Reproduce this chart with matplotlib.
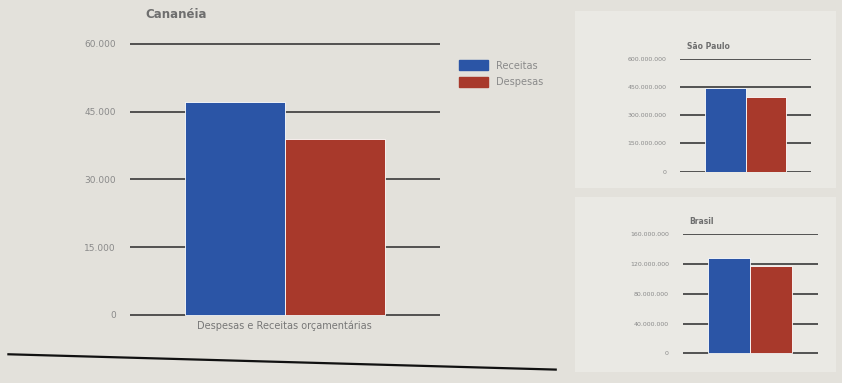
import matplotlib
matplotlib.use("Agg")
import matplotlib.pyplot as plt
from matplotlib.patches import Rectangle
from matplotlib.ticker import FuncFormatter

# data
series = ["Receitas", "Despesas"]
colors = ["#2b55a6", "#a8392b"]

cananeia_vals = [47000, 39000]
cananeia_ticks = [0, 15000, 30000, 45000, 60000]

sp_vals = [445000000, 400000000]
sp_ticks = [0, 150000000, 300000000, 450000000, 600000000]

brasil_vals = [128000000, 117000000]
brasil_ticks = [0, 40000000, 80000000, 120000000, 160000000]

xlabel = "Despesas e Receitas orçamentárias"

bg = "#e3e1db"
fig = plt.figure(figsize=(8.42, 3.83), dpi=100, facecolor=bg)

# lighter boxes behind the two small charts
fig.patches.append(Rectangle((0.683, 0.51), 0.31, 0.46, transform=fig.transFigure,
                             facecolor="#eae9e4", edgecolor="none", zorder=-5))
fig.patches.append(Rectangle((0.683, 0.03), 0.31, 0.455, transform=fig.transFigure,
                             facecolor="#eae9e4", edgecolor="none", zorder=-5))

fmt = FuncFormatter(lambda v, p: f"{int(v):,}".replace(",", "."))


def draw(ax, vals, ticks, title, tick_size, title_size, xlim):
    ax.set_facecolor("none")
    ax.bar([-0.5, 0.5], vals, width=1.0, color=colors, edgecolor="white",
           linewidth=0.6, zorder=3)
    ax.set_xlim(-xlim, xlim)
    ax.set_yticks(ticks)
    ax.yaxis.set_major_formatter(fmt)
    ax.grid(axis="y", color="#2a2a2a", linewidth=1.1, zorder=1)
    ax.set_axisbelow(True)
    ax.set_xticks([])
    for s in ax.spines.values():
        s.set_visible(False)
    ax.tick_params(axis="y", length=0, labelsize=tick_size, labelcolor="#8a8a8a", pad=10)
    ax.text(0.05, 1.07, title, transform=ax.transAxes, fontsize=title_size,
            fontweight="bold", color="#6e6e6e", ha="left", va="bottom")
    ax.set_ylim(-ticks[-1] * 0.004, ticks[-1] * 1.003)


ax1 = fig.add_axes([0.154, 0.175, 0.368, 0.713])
draw(ax1, cananeia_vals, cananeia_ticks, "Cananéia", 6.5, 8.5, 1.55)
ax1.texts[0].set_position((0.05, 1.08))
ax1.set_xlabel(xlabel, fontsize=7, color="#777777", labelpad=3)

ax2 = fig.add_axes([0.808, 0.551, 0.155, 0.295])
draw(ax2, sp_vals, sp_ticks, "São Paulo", 4.5, 5.5, 1.6)

ax3 = fig.add_axes([0.811, 0.076, 0.16, 0.313])
draw(ax3, brasil_vals, brasil_ticks, "Brasil", 4.5, 5.5, 1.6)

handles = [Rectangle((0, 0), 1, 1, color=c) for c in colors]
fig.legend(handles, series, loc="upper left", bbox_to_anchor=(0.535, 0.865),
           frameon=False, fontsize=7, labelcolor="#8a8a8a",
           handlelength=3.0, handleheight=1.2, labelspacing=0.6)

# bottom rule of the page
fig.add_artist(plt.Line2D([0.01, 0.66], [0.075, 0.035], transform=fig.transFigure,
                          color="#111111", linewidth=1.6))

fig.savefig("out.png", dpi=100, facecolor=bg)
